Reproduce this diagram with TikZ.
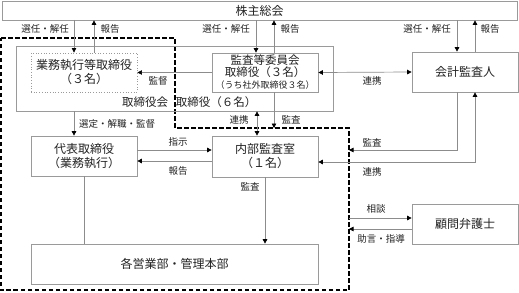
\documentclass[tikz,border=0pt]{standalone}
\usepackage{fontspec}
\setmainfont{Noto Sans CJK JP}
\usetikzlibrary{arrows.meta}
\definecolor{linegray}{HTML}{8C8C8C}
\definecolor{boxgray}{HTML}{9A9A9A}
\definecolor{txt}{HTML}{222222}
\tikzset{
  box/.style={draw=boxgray, line width=0.7pt, inner sep=0pt, align=center, text=txt, font=\fontsize{12}{14}\selectfont},
  lbl/.style={inner sep=0pt, text=txt, font=\fontsize{9.5}{11}\selectfont},
  tip/.tip={Triangle[color=black,length=4.5pt,width=4.5pt]},
  arr/.style={draw=linegray, line width=0.7pt, -tip},
  darr/.style={draw=linegray, line width=0.7pt, tip-tip},
  pline/.style={draw=linegray, line width=0.7pt},
  dashline/.style={draw=black, line width=1.1pt, dash pattern=on 4.5pt off 2.5pt}
}
\begin{document}
\begin{tikzpicture}[x=1pt,y=-1pt]
\useasboundingbox (0,0) rectangle (519,292);
% dashed region
\draw[dashline] (1,38) -- (175,38) -- (175,128) -- (349,128) -- (349,290) -- (1,290) -- cycle;
% boxes
\node[box, minimum width=515pt, minimum height=19pt] (sh) at (259.5,10.5) {株主総会};
\node[box, minimum width=317pt, minimum height=65pt] (bd) at (174.5,78.5) {};
\node[box, draw=boxgray, dotted, line width=0.9pt, minimum width=106pt, minimum height=39pt] (ex) at (84,72.5) {業務執行等取締役\\（３名）};
\node[box, fill=white, minimum width=106pt, minimum height=39pt, font=\fontsize{11.5}{12}\selectfont] (ac) at (265,72.5) {監査等委員会\\取締役（３名）\\{\fontsize{9}{10}\selectfont（うち社外取締役３名）}};
\node[box, minimum width=106pt, minimum height=40pt] (ca) at (465,72) {会計監査人};
\node[box, minimum width=106pt, minimum height=40pt] (rp) at (84,156) {代表取締役\\（業務執行）};
\node[box, minimum width=106pt, minimum height=41pt] (ia) at (265,156.5) {内部監査室\\（１名）};
\node[box, minimum width=287pt, minimum height=40pt] (dp) at (174.5,264) {各営業部・管理本部};
\node[box, minimum width=106pt, minimum height=40pt] (lw) at (465,224) {顧問弁護士};
\node[inner sep=0pt, text=txt, font=\fontsize{11.5}{13}\selectfont] (bdl) at (145,102) {取締役会};
\node[inner sep=0pt, text=txt, font=\fontsize{11.5}{13}\selectfont] (bdr) at (216,102) {取締役（６名）};
% coordinates on dashed boundary
\coordinate (dA) at (349,150);
\coordinate (dT) at (274,128);
\coordinate (dS) at (349,218);
\coordinate (dJ) at (349,229);
% shareholders arrows
\draw[arr] (74,0 |- sh.south) -- (74,0 |- ex.north);
\draw[arr] (94,0 |- ex.north) -- (94,0 |- sh.south);
\draw[arr] (256,0 |- sh.south) -- (256,0 |- ac.north);
\draw[arr] (274,0 |- ac.north) -- (274,0 |- sh.south);
\draw[arr] (457,0 |- sh.south) -- (457,0 |- ca.north);
\draw[arr] (475,0 |- ca.north) -- (475,0 |- sh.south);
\node[lbl] (l1) at (45,29) {選任・解任};
\node[lbl] (l2) at (110,29) {報告};
\node[lbl] (l3) at (226,29) {選任・解任};
\node[lbl] (l4) at (290,29) {報告};
\node[lbl] (l5) at (427,29) {選任・解任};
\node[lbl] (l6) at (490,29) {報告};
% supervision
\draw[arr] (ac.west) -- (ex.east);
\node[lbl] (l7) at (158,81) {監督};
\draw[darr] (ac.east) -- (ca.west);
\node[lbl] (l8) at (372,81) {連携};
% board to rep
\draw[arr] (74,0 |- bd.south) -- (74,0 |- rp.north);
\node[lbl] (l9) at (117,124) {選定・解職・監督};
% liaison board - internal audit
\draw[darr] (257,0 |- bd.south) -- (257,0 |- ia.north);
\node[lbl] (l10) at (239,120) {連携};
\draw[arr] (274,0 |- ac.south) -- (dT);
\node[lbl] (l11) at (291,120) {監査};
% rep <-> internal audit
\draw[arr] (rp.east |- 0,150) -- (ia.west |- 0,150);
\node[lbl] (l12) at (178,142) {指示};
\draw[arr] (ia.west |- 0,161) -- (rp.east |- 0,161);
\node[lbl] (l13) at (178,171) {報告};
% accountant
\draw[arr] (457,0 |- ca.south) |- (dA);
\node[lbl] (l14) at (372,143) {監査};
\draw[darr] (ia.east |- 0,162) -| (475,0 |- ca.south);
\node[lbl] (l15) at (372,172) {連携};
% internal audit to depts
\draw[arr] (265,0 |- ia.south) -- (265,0 |- dp.north);
\node[lbl] (l16) at (250,187) {監査};
\draw[pline] (84,0 |- rp.south) -- (84,0 |- dp.north);
% lawyer
\draw[arr] (dS) -- (lw.west |- dS);
\node[lbl] (l17) at (376,209) {相談};
\draw[arr] (lw.west |- dJ) -- (dJ);
\node[lbl] (l18) at (381,239) {助言・指導};
\end{tikzpicture}
\end{document}
